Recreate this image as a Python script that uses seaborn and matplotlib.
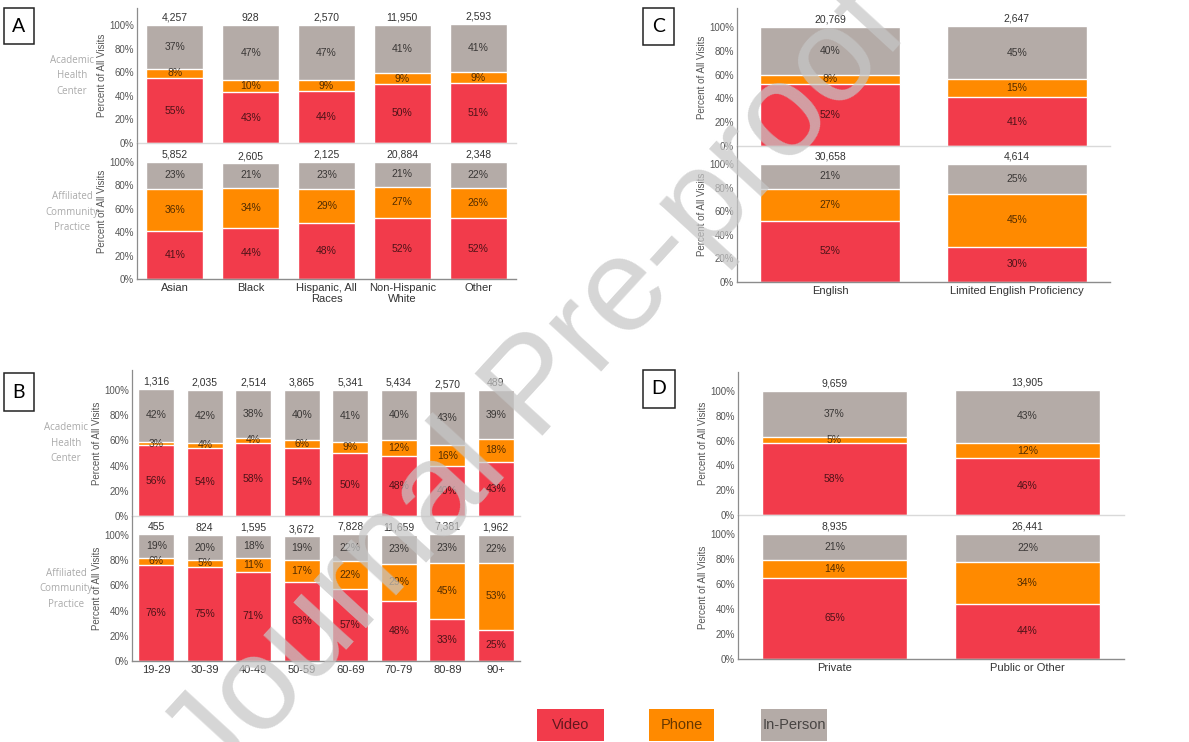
import matplotlib
matplotlib.use("Agg")
import matplotlib.pyplot as plt
from matplotlib.patches import Rectangle
import seaborn as sns
import pandas as pd

# ---------------- data ----------------
race_cats = ["Asian", "Black", "Hispanic, All\nRaces", "Non-Hispanic\nWhite", "Other"]
race_ahc_video = [55, 43, 44, 50, 51]
race_ahc_phone = [8, 10, 9, 9, 9]
race_ahc_inperson = [37, 47, 47, 41, 41]
race_ahc_counts = ["4,257", "928", "2,570", "11,950", "2,593"]
race_acp_video = [41, 44, 48, 52, 52]
race_acp_phone = [36, 34, 29, 27, 26]
race_acp_inperson = [23, 21, 23, 21, 22]
race_acp_counts = ["5,852", "2,605", "2,125", "20,884", "2,348"]

age_cats = ["19-29", "30-39", "40-49", "50-59", "60-69", "70-79", "80-89", "90+"]
age_ahc_video = [56, 54, 58, 54, 50, 48, 40, 43]
age_ahc_phone = [3, 4, 4, 6, 9, 12, 16, 18]
age_ahc_inperson = [42, 42, 38, 40, 41, 40, 43, 39]
age_ahc_counts = ["1,316", "2,035", "2,514", "3,865", "5,341", "5,434", "2,570", "489"]
age_acp_video = [76, 75, 71, 63, 57, 48, 33, 25]
age_acp_phone = [6, 5, 11, 17, 22, 29, 45, 53]
age_acp_inperson = [19, 20, 18, 19, 22, 23, 23, 22]
age_acp_counts = ["455", "824", "1,595", "3,672", "7,828", "11,659", "7,381", "1,962"]

lang_cats = ["English", "Limited English Proficiency"]
lang_ahc_video = [52, 41]
lang_ahc_phone = [8, 15]
lang_ahc_inperson = [40, 45]
lang_ahc_counts = ["20,769", "2,647"]
lang_acp_video = [52, 30]
lang_acp_phone = [27, 45]
lang_acp_inperson = [21, 25]
lang_acp_counts = ["30,658", "4,614"]

ins_cats = ["Private", "Public or Other"]
ins_ahc_video = [58, 46]
ins_ahc_phone = [5, 12]
ins_ahc_inperson = [37, 43]
ins_ahc_counts = ["9,659", "13,905"]
ins_acp_video = [65, 44]
ins_acp_phone = [14, 34]
ins_acp_inperson = [21, 22]
ins_acp_counts = ["8,935", "26,441"]

legend_labels = ["Video", "Phone", "In-Person"]
row_labels = ["Academic\nHealth\nCenter", "Affiliated\nCommunity\nPractice"]

# ---------------- style ----------------
RED = "#F23B4B"
ORANGE = "#FF8A00"
GRAY = "#B4ABA7"
COLORS = [RED, ORANGE, GRAY]

sns.set_theme(style="white")
plt.rcParams["font.family"] = ["Liberation Sans", "DejaVu Sans"]

W, H = 1189, 742
fig = plt.figure(figsize=(W / 100, H / 100), dpi=100)


def ax_px(l, t, r, b):
    return fig.add_axes([l / W, 1 - b / H, (r - l) / W, (b - t) / H])


def draw(ax, cats, video, phone, inperson, counts, ymax, bottom):
    df = pd.DataFrame({"cat": cats, "v": video, "p": phone, "i": inperson})
    df["vp"] = df["v"] + df["p"]
    df["tot"] = df["vp"] + df["i"]
    for col, color in [("tot", GRAY), ("vp", ORANGE), ("v", RED)]:
        sns.barplot(data=df, x="cat", y=col, order=cats, color=color,
                    saturation=1, width=0.75, ax=ax, errorbar=None, zorder=1)
    for k in range(len(cats)):
        v, p, i = video[k], phone[k], inperson[k]
        for yc, val in [(v / 2, v), (v + p / 2, p), (v + p + i / 2, i)]:
            ax.text(k, yc, f"{val}%", ha="center", va="center", fontsize=7.5,
                    color="black", alpha=0.68, zorder=3)
        ax.annotate(counts[k], (k, v + p + i), xytext=(0, 1.5),
                    textcoords="offset points", ha="center", va="bottom",
                    fontsize=7.5, color="#333333")
    ax.set_xlim(-0.5, len(cats) - 0.5)
    ax.set_ylim(0, ymax)
    ax.set_yticks([0, 20, 40, 60, 80, 100])
    ax.set_yticklabels(["0%", "20%", "40%", "60%", "80%", "100%"])
    ax.tick_params(axis="y", length=0, pad=2, labelsize=7, labelcolor="#555555")
    ax.set_ylabel("Percent of All Visits", fontsize=7, color="#555555", labelpad=2)
    ax.set_xlabel("")
    for s in ["top", "right"]:
        ax.spines[s].set_visible(False)
    ax.spines["left"].set_color("#8c8c8c")
    ax.spines["left"].set_linewidth(0.9)
    if bottom:
        ax.spines["bottom"].set_color("#8c8c8c")
        ax.spines["bottom"].set_linewidth(1.0)
        ax.tick_params(axis="x", length=0, pad=3, labelsize=8, labelcolor="#333333")
        for t in ax.get_xticklabels():
            t.set_linespacing(1.1)
    else:
        ax.spines["bottom"].set_color("#d9d9d9")
        ax.spines["bottom"].set_linewidth(1.0)
        ax.set_xticklabels([])
        ax.tick_params(axis="x", length=0)
    ax.set_facecolor("none")


def panel(left, right, top, y100u, y0u, y100l, y0l, cats, up, lo):
    axu = ax_px(left, top, right, y0u)
    ymax_u = 100 * (y0u - top) / (y0u - y100u)
    draw(axu, cats, *up, ymax_u, False)
    axl = ax_px(left, y0u, right, y0l)
    ymax_l = 100 * (y0l - y0u) / (y0l - y100l)
    draw(axl, cats, *lo, ymax_l, True)
    return axu, axl


panel(137, 516, 8, 25, 143, 162, 279, race_cats,
      (race_ahc_video, race_ahc_phone, race_ahc_inperson, race_ahc_counts),
      (race_acp_video, race_acp_phone, race_acp_inperson, race_acp_counts))
panel(737, 1110, 8, 27, 146, 164, 282, lang_cats,
      (lang_ahc_video, lang_ahc_phone, lang_ahc_inperson, lang_ahc_counts),
      (lang_acp_video, lang_acp_phone, lang_acp_inperson, lang_acp_counts))
panel(132, 520, 370, 390, 516, 535, 661, age_cats,
      (age_ahc_video, age_ahc_phone, age_ahc_inperson, age_ahc_counts),
      (age_acp_video, age_acp_phone, age_acp_inperson, age_acp_counts))
panel(738, 1124, 372, 391, 515, 534, 659, ins_cats,
      (ins_ahc_video, ins_ahc_phone, ins_ahc_inperson, ins_ahc_counts),
      (ins_acp_video, ins_acp_phone, ins_acp_inperson, ins_acp_counts))

# row labels
for (x, y), lab in [((72, 76), row_labels[0]), ((72, 212), row_labels[1]),
                    ((66, 443), row_labels[0]), ((66, 589), row_labels[1])]:
    fig.text(x / W, 1 - y / H, lab, ha="center", va="center", fontsize=7,
             color="#aaaaaa", linespacing=1.55, family=["Open Sans", "DejaVu Sans"])

# panel letters
for (l, t, r, b), letter in [((4, 8, 34, 44), "A"), ((643, 8, 674, 45), "C"),
                             ((4, 373, 34, 411), "B"), ((643, 370, 675, 408), "D")]:
    fig.patches.append(Rectangle((l / W, 1 - b / H), (r - l) / W, (b - t) / H,
                                 transform=fig.transFigure, facecolor="white",
                                 edgecolor="#222222", linewidth=1.1))
    fig.text((l + r) / 2 / W, 1 - (t + b) / 2 / H, letter, ha="center", va="center",
             fontsize=14, color="black", family=["Lato", "DejaVu Sans"])

# legend
for (l, r), lab, col in zip([(537, 604), (649, 714), (761, 827)], legend_labels, COLORS):
    t, b = 709, 741
    fig.patches.append(Rectangle((l / W, 1 - b / H), (r - l) / W, (b - t) / H,
                                 transform=fig.transFigure, facecolor=col,
                                 edgecolor="none"))
    fig.text((l + r) / 2 / W, 1 - (t + b) / 2 / H, lab, ha="center", va="center",
             fontsize=10.5, color="black", alpha=0.6)

# watermark
fig.text(538 / W, 1 - 390 / H, "Journal Pre-proof", rotation=47.5, rotation_mode="anchor",
         ha="center", va="center", fontsize=96, color="#c6c6c6", alpha=0.72, zorder=10)

fig.savefig("out.png", dpi=100)
